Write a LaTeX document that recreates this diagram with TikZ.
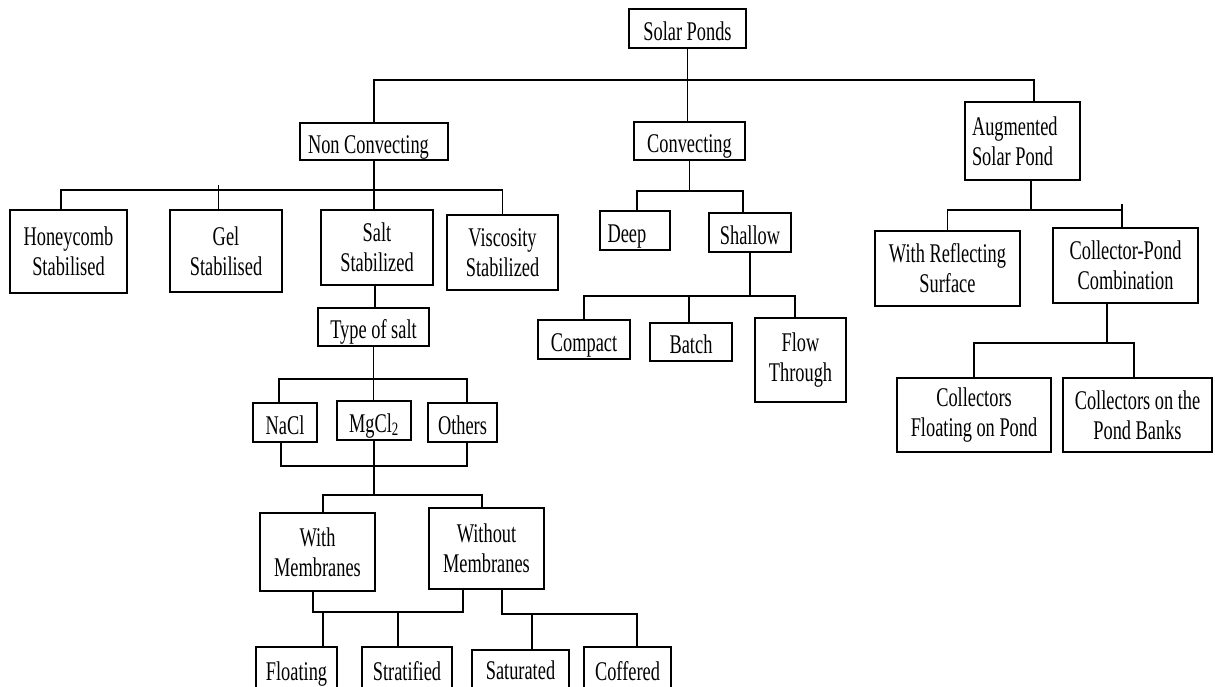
\documentclass[tikz,border=0pt]{standalone}
\usepackage{fontspec}
\setmainfont{Liberation Serif}[FakeStretch=0.68]
\begin{document}
\begin{tikzpicture}[x=1pt,y=-1pt,
  box/.style={draw, line width=1.4pt, inner sep=0pt, align=center,
    font=\fontsize{27}{30}\selectfont},
  one/.style={box, text height=24pt, text depth=1pt},
  conn/.style={line width=1.4pt}]
\useasboundingbox (0,0) rectangle (1215,686);
\clip (0,0) rectangle (1215,686);
% nodes
\node[one, minimum width=117, minimum height=39] (sp) at (687.5,28.5) {Solar Ponds};
\node[one, minimum width=148, minimum height=37] (nc) at (374,141.5) {\makebox[132pt][l]{Non Convecting}};
\node[one, minimum width=111, minimum height=38] (cv) at (689.5,141) {Convecting};
\node[box, minimum width=115, minimum height=78, align=left] (aug) at (1022.5,141) {\makebox[101pt][l]{Augmented}\\\makebox[101pt][l]{Solar Pond}};
\node[box, minimum width=117, minimum height=83] (hc) at (68.5,251.5) {Honeycomb\\Stabilised};
\node[box, minimum width=112, minimum height=82] (gel) at (226,251) {Gel\\Stabilised};
\node[box, minimum width=112, minimum height=75] (salt) at (377,247.5) {Salt\\Stabilized};
\node[box, minimum width=111, minimum height=75] (visc) at (502.5,252.5) {Viscosity\\Stabilized};
\node[one, minimum width=70, minimum height=39] (deep) at (635,230.5) {\makebox[55pt][l]{Deep}};
\node[one, minimum width=82, minimum height=39] (shallow) at (750,232.5) {Shallow};
\node[box, minimum width=145, minimum height=75] (refl) at (947.5,268.5) {With Reflecting\\Surface};
\node[box, minimum width=145, minimum height=75] (cpc) at (1125.5,265.5) {Collector-Pond\\Combination};
\node[one, minimum width=111, minimum height=38] (tos) at (373.5,327) {Type of salt};
\node[one, minimum width=92, minimum height=39] (compact) at (584,339.5) {Compact};
\node[one, minimum width=82, minimum height=38] (batch) at (691,342) {Batch};
\node[box, minimum width=91, minimum height=84] (flow) at (800.5,360) {Flow\\Through};
\node[box, minimum width=154, minimum height=74] (cfp) at (974,415) {Collectors\\Floating on Pond};
\node[box, minimum width=149, minimum height=74] (cpb) at (1137.5,415) {Collectors on the\\Pond Banks};
\node[one, minimum width=64, minimum height=39] (nacl) at (285,422.5) {NaCl};
\node[one, minimum width=74, minimum height=39] (mgcl) at (374,420.5) {MgCl\textsubscript{2}};
\node[one, minimum width=69, minimum height=39] (others) at (462.5,422.5) {Others};
\node[box, minimum width=115, minimum height=78] (withm) at (317.5,552) {With\\Membranes};
\node[box, minimum width=115, minimum height=81] (withoutm) at (486.5,548.5) {Without\\Membranes};
\node[one, minimum width=81, minimum height=43] (floating) at (296.5,668.5) {Floating};
\node[one, minimum width=90, minimum height=43] (strat) at (407,668.5) {Stratified};
\node[box, text height=18pt, text depth=2pt, minimum width=97, minimum height=43] (sat) at (520.5,671.5) {Saturated};
\node[one, minimum width=87, minimum height=43] (coff) at (627.5,668.5) {Coffered};
% bus levels
\coordinate (b1) at (0,80);
\coordinate (b2) at (0,190);
\coordinate (b3) at (0,191);
\coordinate (b4) at (0,296);
\coordinate (b5) at (0,210);
\coordinate (b6) at (0,343);
\coordinate (b7) at (0,379);
\coordinate (b8) at (0,466);
\coordinate (b9) at (0,495);
\coordinate (b10) at (0,612);
\coordinate (b11) at (0,614);
% connectors
\draw[conn] (sp.south) -- (sp.south |- cv.north);
\draw[conn] (nc.north) |- ([xshift=11.5]aug.north |- b1) -- ([xshift=11.5]aug.north);
\draw[conn] ([xshift=-7.5]hc.north) |- (visc.north |- b2) -- (visc.north);
\draw[conn] (nc.south) -- (nc.south |- salt.north);
\draw[conn] ([xshift=-7.5]gel.north) -- ++(0,-24);
\draw[conn] (cv.south) -- (cv.south |- b3);
\draw[conn] ([xshift=2]deep.north) |- ([xshift=-7]shallow.north |- b3) -- ([xshift=-7]shallow.north);
\draw[conn] (shallow.south) -- (shallow.south |- b4);
\draw[conn] (compact.north) |- ([xshift=-5.5]flow.north |- b4) -- ([xshift=-5.5]flow.north);
\draw[conn] ([xshift=-2]batch.north) -- ([xshift=-2]batch.north |- b4);
\draw[conn] ([xshift=8.5]aug.south) -- ([xshift=8.5]aug.south |- b5);
\draw[conn] (refl.north) |- ([xshift=-3.5]cpc.north |- b5);
\draw[conn] ([xshift=-3.5]cpc.north) -- ++(0,-23);
\draw[conn] ([xshift=-18.5]cpc.south) -- ([xshift=-18.5]cpc.south |- b6);
\draw[conn] (cfp.north) |- ([xshift=-3.5]cpb.north |- b6) -- ([xshift=-3.5]cpb.north);
\draw[conn] ([xshift=-2]salt.south) -- ([xshift=-2]salt.south |- tos.north);
\draw[conn] (tos.south) -- (tos.south |- mgcl.north);
\draw[conn] ([xshift=-6]nacl.north) |- ([xshift=4.5]others.north |- b7) -- ([xshift=4.5]others.north);
\draw[conn] ([xshift=-4]nacl.south) |- ([xshift=4.5]others.south |- b8) -- ([xshift=4.5]others.south);
\draw[conn] (mgcl.south) -- (mgcl.south |- b9);
\draw[conn] ([xshift=5.5]withm.north) |- ([xshift=-4.5]withoutm.north |- b9) -- ([xshift=-4.5]withoutm.north);
\draw[conn] ([xshift=-4.5]withm.south) |- ([xshift=-23.5]withoutm.south |- b10) -- ([xshift=-23.5]withoutm.south);
\draw[conn] ([xshift=26.5]floating.north) -- ([xshift=26.5]floating.north |- b10);
\draw[conn] ([xshift=-9]strat.north) -- ([xshift=-9]strat.north |- b10);
\draw[conn] ([xshift=15.5]withoutm.south) |- ([xshift=9.5]coff.north |- b11) -- ([xshift=9.5]coff.north);
\draw[conn] ([xshift=11.5]sat.north) -- ([xshift=11.5]sat.north |- b11);
\end{tikzpicture}
\end{document}
